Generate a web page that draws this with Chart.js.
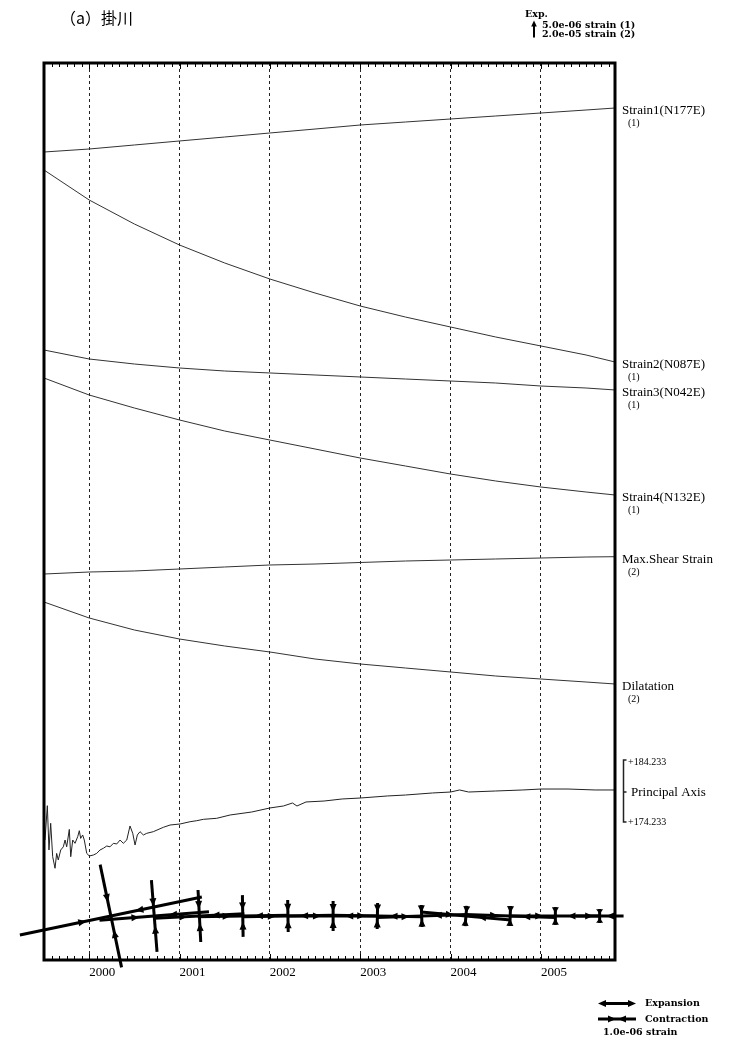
<!DOCTYPE html>
<html>
<head>
<meta charset="utf-8">
<script src="https://cdn.jsdelivr.net/npm/chart.js@4/dist/chart.umd.min.js"></script>
<style>
body { margin: 0; background: #fff; }
canvas { display: block; }
</style>
</head>
<body>
<canvas id="myChart" width="731" height="1039"></canvas>
<script>
// --- data (time in decimal years, strain in 1e-6) ---
const yearLabels = [2000, 2001, 2002, 2003, 2004, 2005];
const traceTimes = [1999.5, 2000, 2000.5, 2001, 2001.5, 2002, 2002.5, 2003, 2003.5, 2004, 2004.5, 2005, 2005.5, 2005.82];

const strain1 = [0, 0.88, 2.06, 3.24, 4.41, 5.59, 6.76, 7.94, 8.82, 9.71, 10.59, 11.47, 12.35, 12.94];
const strain2 = [0, -8.82, -15.88, -22.06, -27.35, -32.06, -36.18, -40.00, -43.24, -46.18, -49.12, -51.76, -54.41, -56.47];
const strain3 = [0, -2.65, -4.12, -5.29, -6.18, -6.76, -7.35, -7.94, -8.53, -9.12, -9.71, -10.59, -11.18, -11.76];
const strain4 = [0, -5.00, -8.82, -12.35, -15.59, -18.24, -20.88, -23.53, -25.88, -28.24, -30.29, -32.06, -33.53, -34.41];
const maxShear = [0, 2.35, 3.53, 5.88, 8.24, 10.59, 11.76, 13.53, 15.29, 16.47, 17.65, 18.82, 20.00, 20.35];
const dilatation = [0, -18.82, -32.94, -43.53, -51.76, -58.82, -67.06, -72.94, -77.65, -82.35, -87.06, -90.59, -94.12, -96.47];

// principal axis direction (deg)
const axisTimes = [1999.511, 1999.537, 1999.555, 1999.574, 1999.596, 1999.622, 1999.640, 1999.658, 1999.685, 1999.714,
    1999.733, 1999.751, 1999.780, 1999.796, 1999.818, 1999.843, 1999.873, 1999.891, 1999.906, 1999.928,
    1999.946, 1999.973, 2000.002, 2000.046, 2000.083, 2000.120, 2000.157, 2000.194, 2000.231, 2000.268,
    2000.305, 2000.342, 2000.378, 2000.416, 2000.452, 2000.482, 2000.508, 2000.533, 2000.563, 2000.600,
    2000.637, 2000.710, 2000.821, 2000.895, 2001.006, 2001.117, 2001.191, 2001.264, 2001.412, 2001.560,
    2001.8, 2002.0, 2002.15, 2002.25, 2002.3, 2002.4, 2002.6, 2002.8, 2003.0, 2003.3,
    2003.5, 2003.8, 2004.0, 2004.1, 2004.2, 2004.5, 2004.8, 2005.0, 2005.3, 2005.6, 2005.82];
const axisDeg = [171.23, 176.95, 169.57, 174.02, 168.45, 166.52, 169.00, 167.90, 169.57, 170.10,
    171.23, 170.10, 173.00, 168.45, 171.23, 170.68, 171.78, 172.78, 171.50, 172.07,
    171.23, 169.00, 168.57, 168.73, 169.00, 169.57, 169.85, 170.23, 170.10, 170.68,
    170.57, 171.23, 170.68, 171.23, 173.57, 172.35, 170.40, 172.07, 172.62, 172.07,
    172.35, 172.62, 173.35, 173.73, 173.90, 174.28, 174.45, 174.68, 174.85, 175.40,
    175.90, 176.57, 176.90, 177.40, 176.90, 177.57, 177.73, 178.07, 178.23, 178.57,
    178.73, 179.07, 179.23, 179.57, 179.23, 179.40, 179.57, 179.73, 179.73, 179.57, 179.57];

// principal strain crosses
const crossDates = [2000.24, 2000.72, 2001.22, 2001.70, 2002.20, 2002.70, 2003.19, 2003.68, 2004.17, 2004.66, 2005.16, 2005.65];
const crossAngle = [11.8, 4.5, 3, 1, 1, 0, -1, 2, -5, -2, 0, 0];
const crossStrainA = [-4.89, -2.89, -2.37, -2.37, -2.37, -2.37, -2.37, -2.37, -2.37, -2.37, -2.37, -1.26];
const crossStrainB = [-2.76, -1.89, -1.37, -1.10, -0.84, -0.79, -0.68, -0.58, -0.53, -0.53, -0.47, -0.37];

// --- layout ---
const pxPerMicro1 = 17 / 5;    // Exp. arrow = 5.0e-06 strain
const pxPerMicro2 = 17 / 20;   // Exp. arrow = 2.0e-05 strain
const crossPxPerMicro = 38;    // 1.0e-06 strain
const axisRefHigh = 184.233, axisRefLow = 174.233, axisBase = 198, axisPxPerDeg = 6;
const crossBase = 44;

const traces = [
    { name: 'Strain1(N177E)', grp: '(1)', vals: strain1, base: 808, k: pxPerMicro1 },
    { name: 'Strain2(N087E)', grp: '(1)', vals: strain2, base: 790, k: pxPerMicro1 },
    { name: 'Strain3(N042E)', grp: '(1)', vals: strain3, base: 610, k: pxPerMicro1 },
    { name: 'Strain4(N132E)', grp: '(1)', vals: strain4, base: 582, k: pxPerMicro1 },
    { name: 'Max.Shear Strain', grp: '(2)', vals: maxShear, base: 386, k: pxPerMicro2 },
    { name: 'Dilatation', grp: '(2)', vals: dilatation, base: 358, k: pxPerMicro2 }
];

const datasets = traces.map(function (t) {
    return {
        label: t.name,
        data: traceTimes.map(function (x, i) { return { x: x, y: t.base + t.vals[i] * t.k }; }),
        borderColor: '#333', borderWidth: 1, pointRadius: 0, fill: false
    };
});
datasets.push({
    label: 'Principal Axis',
    data: axisTimes.map(function (x, i) { return { x: x, y: axisBase - (axisRefHigh - axisDeg[i]) * axisPxPerDeg }; }),
    borderColor: '#222', borderWidth: 1, pointRadius: 0, fill: false
});

function head(ctx, tx, ty, dx, dy, len, hw) {
    ctx.beginPath();
    ctx.moveTo(tx, ty);
    ctx.lineTo(tx - dx * len - dy * hw, ty - dy * len + dx * hw);
    ctx.lineTo(tx - dx * len + dy * hw, ty - dy * len - dx * hw);
    ctx.closePath();
    ctx.fill();
}

function drawArm(ctx, cx, cy, ang, strain) {
    const len = Math.abs(strain) * crossPxPerMicro;
    const h = len / 2;
    const dx = Math.cos(ang), dy = -Math.sin(ang);
    ctx.beginPath();
    ctx.moveTo(cx - dx * h, cy - dy * h);
    ctx.lineTo(cx + dx * h, cy + dy * h);
    ctx.stroke();
    const hl = Math.min(8, h * 0.7);
    if (strain < 0) {
        const t = 0.27 * h;
        head(ctx, cx + dx * t, cy + dy * t, -dx, -dy, hl, 3.5);
        head(ctx, cx - dx * t, cy - dy * t, dx, dy, hl, 3.5);
    } else {
        head(ctx, cx + dx * h, cy + dy * h, dx, dy, hl, 3.5);
        head(ctx, cx - dx * h, cy - dy * h, -dx, -dy, hl, 3.5);
    }
}

const overlay = {
    id: 'overlay',
    afterDraw: function (chart) {
        const ctx = chart.ctx;
        const a = chart.chartArea;
        const xs = chart.scales.x, ys = chart.scales.y;
        ctx.save();

        // monthly ticks inside frame
        ctx.strokeStyle = '#000';
        ctx.lineWidth = 1;
        for (let m = Math.ceil(xs.min * 12); m <= Math.floor(xs.max * 12); m++) {
            const px = Math.round(xs.getPixelForValue(m / 12)) + 0.5;
            const tl = (m % 12 === 0) ? 6 : 4;
            ctx.beginPath();
            ctx.moveTo(px, a.top); ctx.lineTo(px, a.top + tl);
            ctx.moveTo(px, a.bottom); ctx.lineTo(px, a.bottom - tl);
            ctx.stroke();
        }

        // frame
        ctx.lineWidth = 3;
        ctx.strokeRect(a.left, a.top, a.right - a.left, a.bottom - a.top);

        // strain crosses
        ctx.lineWidth = 3;
        ctx.fillStyle = '#000';
        ctx.lineCap = 'butt';
        crossDates.forEach(function (d, i) {
            const cx = xs.getPixelForValue(d), cy = ys.getPixelForValue(crossBase);
            const ang = crossAngle[i] * Math.PI / 180;
            drawArm(ctx, cx, cy, ang, crossStrainA[i]);
            drawArm(ctx, cx, cy, ang + Math.PI / 2, crossStrainB[i]);
        });

        // right-hand labels
        ctx.fillStyle = '#000';
        ctx.textAlign = 'left';
        ctx.textBaseline = 'middle';
        traces.forEach(function (t) {
            const yEnd = ys.getPixelForValue(t.base + t.vals[t.vals.length - 1] * t.k);
            ctx.font = '13px "Liberation Serif", "Times New Roman", serif';
            ctx.fillText(t.name, a.right + 7, yEnd + 3);
            ctx.font = '10px "Liberation Serif", "Times New Roman", serif';
            ctx.fillText(t.grp, a.right + 13, yEnd + 15.5);
        });

        // principal axis bracket
        const yHi = ys.getPixelForValue(axisBase);
        const yLo = ys.getPixelForValue(axisBase - (axisRefHigh - axisRefLow) * axisPxPerDeg);
        const bx = a.right + 8.5;
        ctx.strokeStyle = '#222';
        ctx.lineWidth = 1.5;
        ctx.beginPath();
        ctx.moveTo(bx + 3, yHi - 2); ctx.lineTo(bx, yHi - 2); ctx.lineTo(bx, yLo); ctx.lineTo(bx + 3, yLo);
        ctx.moveTo(bx, (yHi + yLo) / 2); ctx.lineTo(bx + 3, (yHi + yLo) / 2);
        ctx.stroke();
        ctx.font = '10px "Liberation Serif", "Times New Roman", serif';
        ctx.fillText('+' + axisRefHigh.toFixed(3), a.right + 13, yHi);
        ctx.fillText('+' + axisRefLow.toFixed(3), a.right + 13, yLo);
        ctx.font = '13px "Liberation Serif", "Times New Roman", serif';
        ctx.fillText('Principal Axis', a.right + 16, (yHi + yLo) / 2 + 1);

        // title
        ctx.font = '16px "Noto Sans CJK JP", sans-serif';
        ctx.fillText('（a）掛川', 60, 18);

        // Exp. scale legend (top right)
        ctx.font = 'bold 9.5px "DejaVu Serif", serif';
        ctx.fillText('Exp.', 525, 15);
        ctx.fillText('5.0e-06 strain (1)', 542, 25.5);
        ctx.fillText('2.0e-05 strain (2)', 542, 34.5);
        ctx.strokeStyle = '#000';
        ctx.lineWidth = 2;
        ctx.beginPath();
        ctx.moveTo(534, 37.5); ctx.lineTo(534, 25);
        ctx.stroke();
        head(ctx, 534, 20.5, 0, -1, 6, 2.8);

        // expansion / contraction legend (bottom right)
        const lx0 = 598, lx1 = lx0 + crossPxPerMicro;
        ctx.lineWidth = 3;
        ctx.beginPath();
        ctx.moveTo(lx0 + 4, 1003.5); ctx.lineTo(lx1 - 4, 1003.5);
        ctx.moveTo(lx0, 1019); ctx.lineTo(lx1, 1019);
        ctx.stroke();
        head(ctx, lx1, 1003.5, 1, 0, 8, 3.5);
        head(ctx, lx0, 1003.5, -1, 0, 8, 3.5);
        const lc = (lx0 + lx1) / 2;
        head(ctx, lc - 1, 1019, 1, 0, 8, 3.5);
        head(ctx, lc + 1, 1019, -1, 0, 8, 3.5);
        ctx.font = 'bold 9.5px "DejaVu Serif", serif';
        ctx.fillText('Expansion', 645, 1004);
        ctx.fillText('Contraction', 645, 1019.5);
        ctx.fillText('1.0e-06 strain', 603, 1033);

        ctx.restore();
    }
};

const ctx = document.getElementById('myChart');
new Chart(ctx, {
    type: 'line',
    data: { datasets: datasets },
    options: {
        responsive: false,
        animation: false,
        layout: { padding: { left: 44, top: 63, right: 116, bottom: 49 } },
        plugins: { legend: { display: false }, tooltip: { enabled: false } },
        scales: {
            x: {
                type: 'linear',
                min: 1999.5,
                max: 2005.82,
                afterBuildTicks: function (scale) {
                    scale.ticks = yearLabels.map(function (v) { return { value: v }; });
                },
                afterFit: function (scale) { scale.height = 30; },
                grid: { color: '#222', lineWidth: 1, drawTicks: false },
                border: { display: false, dash: [3, 3] },
                ticks: {
                    align: 'start',
                    padding: 5,
                    color: '#000',
                    font: { family: '"Liberation Serif", "Times New Roman", serif', size: 13 },
                    callback: function (value) { return String(value); }
                }
            },
            y: {
                type: 'linear',
                display: false,
                min: 0,
                max: 897
            }
        }
    },
    plugins: [overlay]
});
</script>
</body>
</html>
